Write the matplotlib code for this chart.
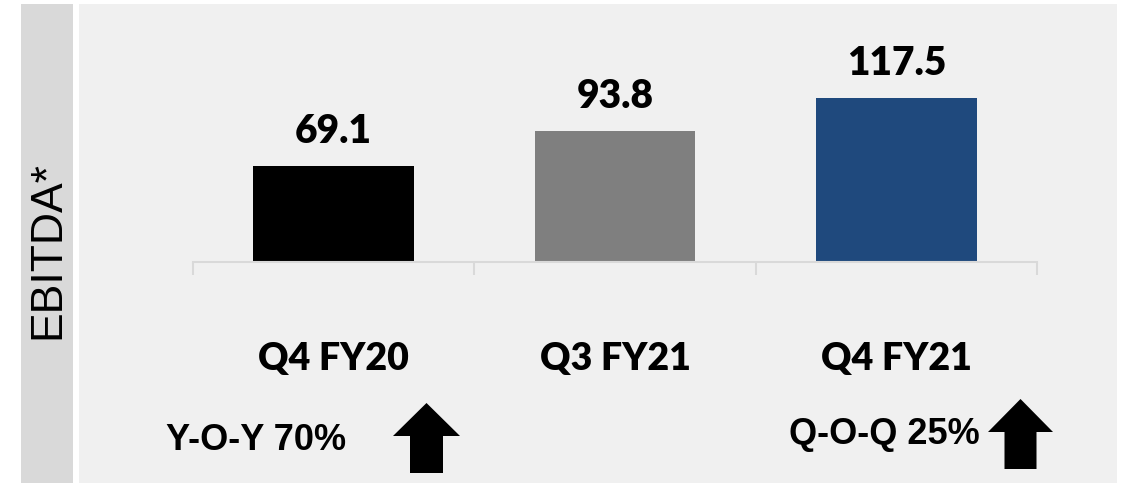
import matplotlib.pyplot as plt
from matplotlib.patches import Rectangle, Polygon

# data
categories = ["Q4 FY20", "Q3 FY21", "Q4 FY21"]
ebitda = [69.1, 93.8, 117.5]
bar_colors = ["#000000", "#7f7f7f", "#1f497d"]
growth_notes = ["Y-O-Y 70%", "Q-O-Q 25%"]

W, H = 1127, 483
fig = plt.figure(figsize=(W / 100, H / 100), dpi=100, facecolor="white")

# background layer in pixel coords
bg = fig.add_axes([0, 0, 1, 1], zorder=0)
bg.set_xlim(0, W)
bg.set_ylim(H, 0)
bg.axis("off")
bg.add_patch(Rectangle((21, 4), 52, 479, color="#d9d9d9", lw=0))
bg.add_patch(Rectangle((79, 4), 1038, 479, color="#f0f0f0", lw=0))
bg.text(48, 250, "EBITDA*", rotation=90, ha="center", va="center",
        fontsize=32, family="Liberation Sans", color="#000000")

# growth notes with up arrows
def up_arrow(cx, top, head_w, head_h, shaft_w, bottom):
    pts = [(cx, top), (cx + head_w / 2, top + head_h), (cx + shaft_w / 2, top + head_h),
           (cx + shaft_w / 2, bottom), (cx - shaft_w / 2, bottom),
           (cx - shaft_w / 2, top + head_h), (cx - head_w / 2, top + head_h)]
    bg.add_patch(Polygon(pts, closed=True, color="black", lw=0))

bg.text(256, 440, growth_notes[0], ha="center", va="center", fontsize=26,
        fontweight="bold", family="Liberation Sans")
up_arrow(426.5, 403, 67, 33, 33, 473)
bg.text(884, 435, growth_notes[1], ha="center", va="center", fontsize=26,
        fontweight="bold", family="Liberation Sans")
up_arrow(1020.5, 399, 65, 33, 32, 469)

# bar chart
ax = fig.add_axes([193 / W, (H - 262) / H, 844 / W, 258 / H], zorder=1)
ax.patch.set_alpha(0)
x = range(len(categories))
ax.bar(x, ebitda, width=0.57, color=bar_colors, zorder=2)
ax.set_xlim(-0.5, 2.5)
ax.set_ylim(0, 185)
for s in ["top", "right", "left"]:
    ax.spines[s].set_visible(False)
ax.spines["bottom"].set_color("#d9d9d9")
ax.spines["bottom"].set_linewidth(1.5)
ax.set_yticks([])
ax.set_xticks([-0.5, 0.5, 1.5, 2.5])
ax.set_xticklabels([])
ax.tick_params(axis="x", length=9.5, width=1.5, color="#d9d9d9", direction="out")

for i, v in enumerate(ebitda):
    ax.annotate(f"{v:.1f}", xy=(i, v), xytext=(0, 16.5), textcoords="offset points",
                ha="center", va="baseline", fontsize=28, fontweight="heavy",
                family="Lato")
    ax.annotate(categories[i], xy=(i, 0), xycoords=("data", "axes fraction"),
                xytext=(0, -69.8), textcoords="offset points",
                ha="center", va="center", fontsize=27, fontweight="heavy",
                family="Lato")

fig.savefig("out.png", dpi=100, facecolor="white")
